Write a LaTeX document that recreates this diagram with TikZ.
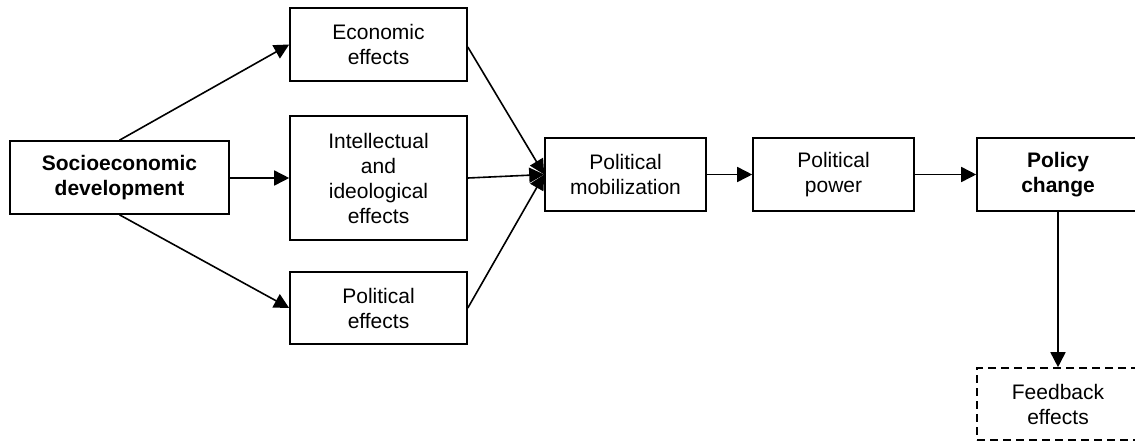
\documentclass[tikz,border=0pt]{standalone}
\usepackage{fontspec}
\setmainfont{Liberation Sans}
\usetikzlibrary{arrows.meta}
\begin{document}
\begin{tikzpicture}[x=1pt,y=-1pt,
  box/.style={draw=black,line width=1.6pt,fill=white,align=center,inner sep=0pt,
    font=\fontsize{21}{25}\selectfont},
  dbox/.style={box,dash pattern=on 8pt off 5pt},
  conn/.style={line width=1.6pt,-{Triangle[length=15pt,width=15pt]}}]
\useasboundingbox (0,0) rectangle (1135,440);
\node[box,minimum width=219pt,minimum height=73pt,font=\fontsize{21}{25}\selectfont\bfseries] (socio) at (119.5,177.5) {Socioeconomic\\development};
\node[box,minimum width=177pt,minimum height=73pt] (econ) at (378.5,44.5) {Economic\\effects};
\node[box,minimum width=177pt,minimum height=124pt] (intel) at (378.5,178) {Intellectual\\and\\ideological\\effects};
\node[box,minimum width=177pt,minimum height=72pt] (polfx) at (378.5,308) {Political\\effects};
\node[box,minimum width=161pt,minimum height=73pt] (mob) at (625.5,174.5) {Political\\mobilization};
\node[box,minimum width=161pt,minimum height=73pt] (power) at (833.5,174.5) {Political\\power};
\node[box,minimum width=162pt,minimum height=73pt,font=\fontsize{21}{25}\selectfont\bfseries] (policy) at (1058,174.5) {Policy\\change};
\node[dbox,minimum width=162pt,minimum height=72pt] (feed) at (1058,404) {Feedback\\effects};
\draw[conn] (socio.north) -- (econ.west);
\draw[conn] (socio.east |- intel.west) -- (intel.west);
\draw[conn] (socio.south) -- (polfx.west);
\draw[conn] ([yshift=-2.5pt]econ.east) -- (mob.west);
\draw[conn] (intel.east) -- (mob.west);
\draw[conn] (polfx.east) -- (mob.west);
\draw[conn] (mob.east) -- (power.west);
\draw[conn] (power.east) -- (policy.west);
\draw[conn] (policy.south) -- (feed.north);
\end{tikzpicture}
\end{document}
